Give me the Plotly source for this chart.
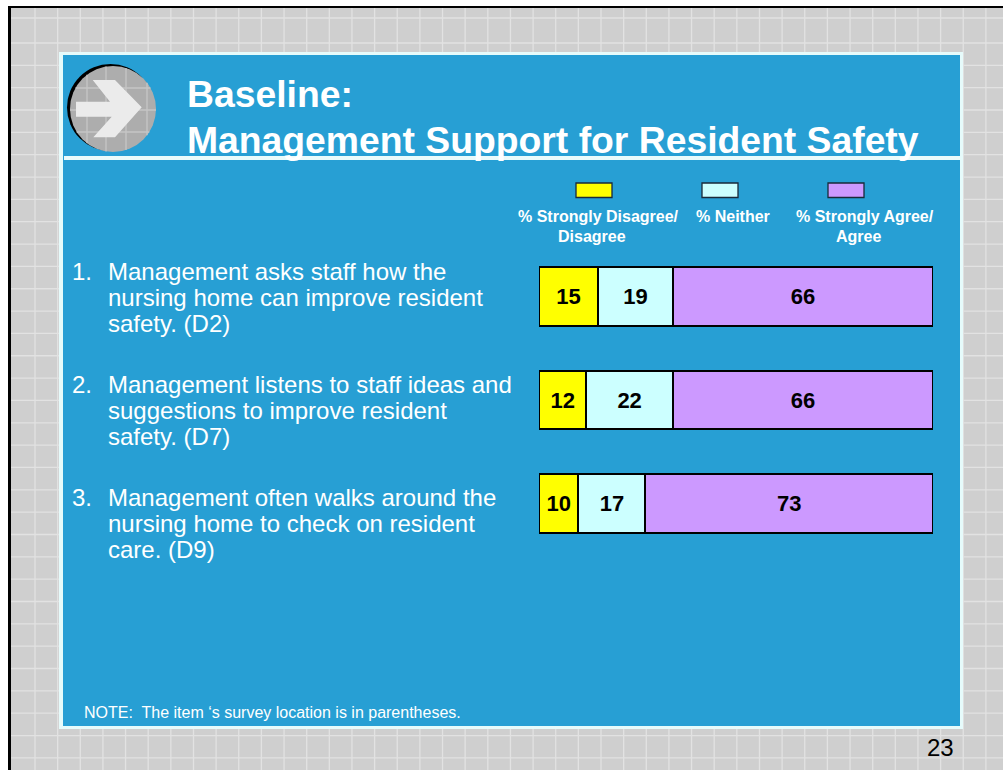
import plotly.graph_objects as go

W, H = 1003, 770

# ---- data ----
questions = ["D2", "D7", "D9"]
disagree = [15, 12, 10]
neither = [19, 22, 17]
agree = [66, 66, 73]
legend_first_lines = ["% Strongly Disagree/", "% Neither", "% Strongly Agree/"]
legend_second_lines = ["Disagree", "", "Agree"]
title_lines = ["Baseline:", "Management Support for Resident Safety"]
item_numbers = ["1.", "2.", "3."]
item_lines = [
    ["Management asks staff how the", "nursing home can improve resident", "safety. (D2)"],
    ["Management listens to staff ideas and", "suggestions to improve resident", "safety. (D7)"],
    ["Management often walks around the", "nursing home to check on resident", "care. (D9)"],
]
note_text = "NOTE:  The item \u2018s survey location is in parentheses."
page_number = "23"

# ---- style ----
YELLOW, CYAN, PURPLE = "#FFFF00", "#CCFFFF", "#CC99FF"
BLUE, EDGE = "#279FD4", "#E6FBFB"
GRAY, GRID = "#CFCFCF", "#E2E2E2"
FONT = "Liberation Sans, Arial, sans-serif"


def fx(p):
    return p / W


def fy(p):
    return 1 - p / H


def rect(x0, y0, x1, y1, fill, line=None, lw=0):
    return dict(type="rect", xref="paper", yref="paper", layer="below",
                x0=fx(x0), x1=fx(x1), y0=fy(y0), y1=fy(y1),
                fillcolor=fill, line=dict(color=line or fill, width=lw))


def seg(x0, y0, x1, y1, color, w=1):
    return dict(type="line", xref="paper", yref="paper", layer="below",
                x0=fx(x0), x1=fx(x1), y0=fy(y0), y1=fy(y1),
                line=dict(color=color, width=w))


def circle(cx, cy, r, fill):
    return dict(type="circle", xref="paper", yref="paper", layer="below",
                x0=fx(cx - r), x1=fx(cx + r), y0=fy(cy + r), y1=fy(cy - r),
                fillcolor=fill, line=dict(width=0))


def label(x, y, text, size, color="white", bold=False, anchor="left"):
    return dict(xref="paper", yref="paper", x=fx(x), y=fy(y), text=f"<b>{text}</b>" if bold else text,
                showarrow=False, xanchor=anchor, yanchor="middle", align="center",
                font=dict(family=FONT, size=size, color=color), borderpad=0, borderwidth=0)


shapes = [rect(10, 8, W, H, GRAY)]
# slide background grid
for i in range(43):
    shapes.append(seg(35 + i * 22.64, 8, 35 + i * 22.64, H, GRID, 1.3))
for y in [18] + [43 + i * 22.34 for i in range(33)]:
    shapes.append(seg(10, y, W, y, GRID, 1.3))
# black slide edge
shapes += [rect(8, 6, 11, H, "black"), rect(8, 6, W, 8, "black")]
# blue panel
shapes += [rect(59, 52, 963, 729, EDGE), rect(63, 55, 960, 726, BLUE)]
# title rule
shapes.append(rect(64, 156, 960, 160, "#EAFBFB"))
# arrow icon
cx, cy, r = 113, 109, 43
shapes += [circle(110.5, 107.5, 43.5, "black"), circle(cx, cy, r, "#ADADAD")]
for x in [87, 106, 126, 147]:
    d = (r * r - (x - cx) ** 2) ** 0.5
    shapes.append(seg(x, cy - d, x, cy + d, "#C6C6C6", 1.3))
for y in [88, 110, 132]:
    d = (r * r - (y - cy) ** 2) ** 0.5
    shapes.append(seg(cx - d, y, cx + d, y, "#C6C6C6", 1.3))
arrow = [(92.7, 80), (115, 80), (141.7, 107.3), (115, 137.3), (93.3, 137.3), (111.7, 116.7),
         (76, 116.7), (76, 101.7), (110, 101.7)]
path = "M " + " L ".join(f"{fx(a):.5f},{fy(b):.5f}" for a, b in arrow) + " Z"
shapes.append(dict(type="path", xref="paper", yref="paper", layer="below", path=path,
                   fillcolor="#EBEBEB", line=dict(width=0)))
# legend swatches
for x0, col in zip([576, 702, 828], [YELLOW, CYAN, PURPLE]):
    shapes.append(rect(x0, 183, x0 + 36, 197.5, col, "#1A2A3A", 1.3))

annotations = [
    label(187, 93.5, title_lines[0], 37.3, bold=True),
    label(187, 140.5, title_lines[1], 37.3, bold=True),
    label(84, 712, note_text, 16),
    label(954, 747, page_number, 24, color="black", anchor="right"),
]
for xp, part in zip([598, 733, 865], legend_first_lines):
    annotations.append(label(xp, 217, part, 16, bold=True, anchor="center"))
for xp, part in zip([592, 733, 858], legend_second_lines):
    if part:
        annotations.append(label(xp, 236, part, 16, bold=True, anchor="center"))
for top, num, lines in zip([271.5, 384.5, 497], item_numbers, item_lines):
    annotations.append(label(72, top, num, 24))
    for k, line in enumerate(lines):
        annotations.append(label(108, top + k * 26, line, 24))

fig = go.Figure()
for vals, col in zip([disagree, neither, agree], [YELLOW, CYAN, PURPLE]):
    fig.add_trace(go.Bar(
        y=questions, x=vals, orientation="h", marker=dict(color=col, line=dict(color="black", width=2)),
        text=[f"<b>{v}</b>" for v in vals], textposition="inside", insidetextanchor="middle",
        textangle=0, constraintext="none",
        textfont=dict(family=FONT, size=22, color="black"), showlegend=False, hoverinfo="skip",
    ))

fig.update_layout(
    width=W, height=H, autosize=False, margin=dict(l=0, r=0, t=0, b=0),
    paper_bgcolor="white", plot_bgcolor="rgba(0,0,0,0)",
    barmode="stack", bargap=0.43,
    xaxis=dict(domain=[fx(539), fx(933)], range=[0, 100], visible=False, fixedrange=True),
    yaxis=dict(domain=[fy(555), fy(245)], categoryorder="array", categoryarray=questions,
               autorange="reversed", visible=False, fixedrange=True),
    shapes=shapes, annotations=annotations,
)

fig.write_html("out.html", config=dict(displayModeBar=False),
               post_script="document.body.style.margin='0';document.body.style.overflow='hidden';")
